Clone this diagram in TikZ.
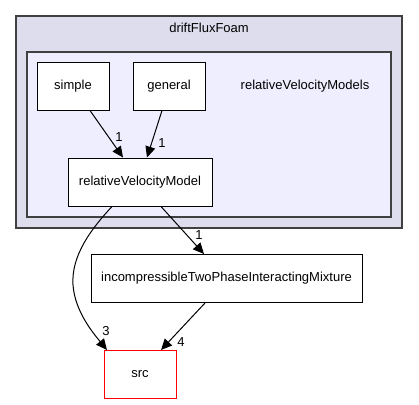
\documentclass[tikz,border=0pt]{standalone}
\usepackage{fontspec}
\setmainfont{Liberation Sans}
\usetikzlibrary{arrows.meta}
\definecolor{outerfill}{HTML}{DDDDEE}
\definecolor{innerfill}{HTML}{EEEEFF}
\definecolor{clusterline}{HTML}{404040}
\begin{document}
\begin{tikzpicture}[x=1pt,y=-1pt,
  dirbox/.style={draw=black,fill=white,line width=1pt,minimum height=48pt,inner sep=0pt,font=\fontsize{13}{15}\selectfont},
  edge/.style={line width=1pt,-{Triangle[length=11pt,width=10pt]}},
  lbl/.style={font=\fontsize{13}{15}\selectfont,inner sep=0pt}]
\useasboundingbox (0,0) rectangle (419,404);
\node[draw=clusterline,fill=outerfill,line width=1.6pt,minimum width=386pt,minimum height=212pt,inner sep=0pt] (outer) at (209,122) {};
\node[lbl] (outertitle) at (209,28) {driftFluxFoam};
\node[draw=clusterline,fill=innerfill,line width=1.6pt,minimum width=364pt,minimum height=165pt,inner sep=0pt] (inner) at (209,134.5) {};
\node[lbl] (innertitle) at (305,86) {relativeVelocityModels};
\node[dirbox,minimum width=72pt] (simple) at (73,86) {simple};
\node[dirbox,minimum width=72pt] (general) at (169,86) {general};
\node[dirbox,minimum width=144pt] (rvm) at (140,182) {relativeVelocityModel};
\node[dirbox,minimum width=271pt] (inc) at (226.5,278.5) {incompressibleTwoPhaseInteractingMixture};
\node[dirbox,draw=red,minimum width=72pt] (src) at (140,374.5) {src};
\draw[edge] ([xshift=17pt]simple.south) -- ([xshift=-17pt]rvm.north);
\draw[edge] ([xshift=-7pt]general.south) -- ([xshift=7pt]rvm.north);
\draw[edge] ([xshift=21pt]rvm.south) -- ([xshift=-22.5pt]inc.north);
\draw[edge] ([xshift=-21.5pt]inc.south) -- ([xshift=21pt]src.north);
\coordinate (bend) at (73,285);
\draw[edge] ([xshift=-28pt]rvm.south) .. controls (92,228) and (71,255) .. (bend) .. controls (75,312) and (94,334) .. ([xshift=-33pt]src.north);
\node[lbl] (l1) at (119,137) {1};
\node[lbl] (l2) at (162,143) {1};
\node[lbl] (l3) at (199,235) {1};
\node[lbl] (l4) at (106,331) {3};
\node[lbl] (l5) at (181,342) {4};
\end{tikzpicture}
\end{document}
